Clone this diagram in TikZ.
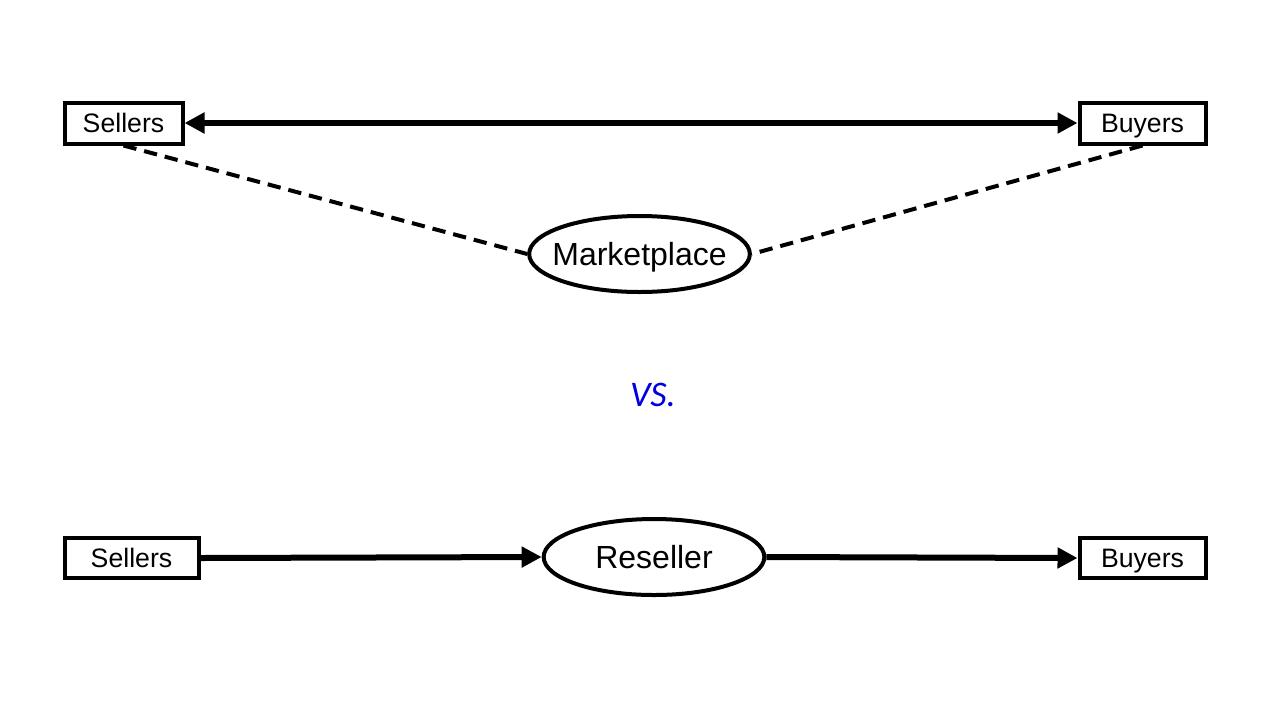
\documentclass[tikz,border=0pt]{standalone}
\usepackage{fontspec}
\setmainfont{Liberation Sans}
\newfontfamily\vsfont{Carlito}
\usetikzlibrary{shapes.geometric, arrows.meta}
\definecolor{vsblue}{RGB}{0,0,224}

\begin{document}
\begin{tikzpicture}[
    x=0.75bp, y=-0.75bp,
    party/.style={rectangle, draw, line width=3bp, minimum height=30.75bp, inner sep=0pt, text height=14.3bp, text depth=0pt, font=\fontsize{20bp}{24bp}\selectfont},
    hub/.style={ellipse, draw, line width=3bp, minimum width=165.5bp, minimum height=57bp, inner ysep=0pt, inner xsep=-12bp, text height=17.2bp, text depth=0pt, font=\fontsize{24bp}{28bp}\selectfont},
    arrow/.style={-{Triangle[length=15bp, width=15bp]}, line width=4.5bp},
    link/.style={line width=3bp, dash pattern=on 10bp off 6bp}
]
    \useasboundingbox (0,0) rectangle (1280,720);

    % marketplace: both sides meet directly
    \node[party, minimum width=88.5bp] (sellers) at (123.5,123) {Sellers};
    \node[party, minimum width=94.5bp] (buyers) at (1142.5,123) {Buyers};
    \node[hub] (market) at (639.5,254) {Marketplace};

    \draw[arrow, {Triangle[length=15bp, width=15bp]}-{Triangle[length=15bp, width=15bp]}] (sellers.east) -- (buyers.west);
    \draw[link] (sellers.south) -- (market.west);
    \draw[link] (buyers.south) -- (market.east);

    \node[text=vsblue, font=\vsfont\itshape\fontsize{27bp}{30bp}\selectfont] (vs) at (653,395) {VS.};

    % reseller: goods pass through the middle
    \node[party, minimum width=100.5bp, minimum height=29.5bp] (rsellers) at (131.5,558) {Sellers};
    \node[hub] (reseller) at (654,557) {Reseller};
    \node[party, minimum width=94.5bp, minimum height=29.5bp] (rbuyers) at (1142.5,558) {Buyers};

    \draw[arrow] (rsellers.east) -- (reseller.west);
    \draw[arrow] (reseller.east) -- (rbuyers.west);

\end{tikzpicture}
\end{document}
